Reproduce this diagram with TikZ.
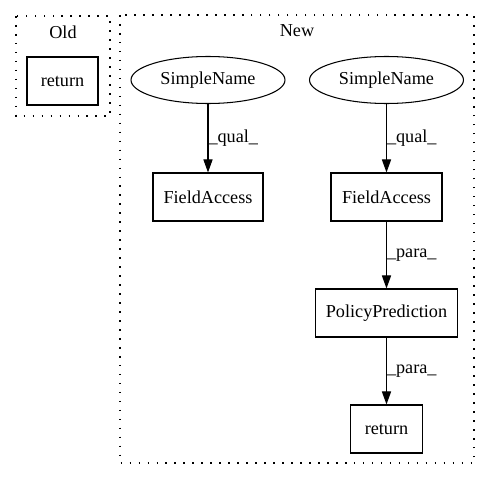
\documentclass[tikz,border=0pt]{standalone}
\usepackage{fontspec}
\setmainfont{Liberation Serif}
\usetikzlibrary{arrows.meta,shapes.geometric}
\begin{document}
\begin{tikzpicture}[x=0.769pt,y=-0.769pt,
  font=\fontsize{14}{16}\selectfont,
  cluster/.style={draw, line width=0.8pt, dash pattern=on 1.2pt off 5.7pt},
  boxnode/.style={draw, line width=0.8pt, rectangle, inner sep=0pt, minimum height=48*0.769pt},
  ellnode/.style={draw, line width=0.8pt, ellipse, inner sep=0pt, minimum height=47*0.769pt, minimum width=154*0.769pt},
  arr/.style={line width=0.8pt, -{Triangle[length=10pt,width=7pt]}},
  lab/.style={anchor=west, inner sep=0pt}
]
\useasboundingbox (0,0) rectangle (491,480);
% clusters
\draw[cluster] (16,16) rectangle (110,116);
\node[inner sep=0pt] (oldlab) at (63,32) {Old};
\draw[cluster] (120,15) rectangle (474,463);
\node[inner sep=0pt] (newlab) at (297,31) {New};
% nodes
\node[boxnode, minimum width=71*0.769pt] (oret) at (62.5,81) {return};
\node[ellnode] (sl) at (208,80) {SimpleName};
\node[ellnode] (sr) at (386.5,80) {SimpleName};
\node[boxnode, minimum width=110*0.769pt] (fl) at (208,197) {FieldAccess};
\node[boxnode, minimum width=111*0.769pt] (fr) at (386.5,197) {FieldAccess};
\node[boxnode, minimum width=142*0.769pt] (pp) at (386.5,313) {PolicyPrediction};
\node[boxnode, minimum width=72*0.769pt] (nret) at (386.5,429) {return};
% edges
\draw[arr] (sl) -- node[lab] (q1) {\_qual\_} (fl);
\draw[arr] (sr) -- node[lab] (q2) {\_qual\_} (fr);
\draw[arr] (fr) -- node[lab] (p1) {\_para\_} (pp);
\draw[arr] (pp) -- node[lab] (p2) {\_para\_} (nret);
\end{tikzpicture}
\end{document}
